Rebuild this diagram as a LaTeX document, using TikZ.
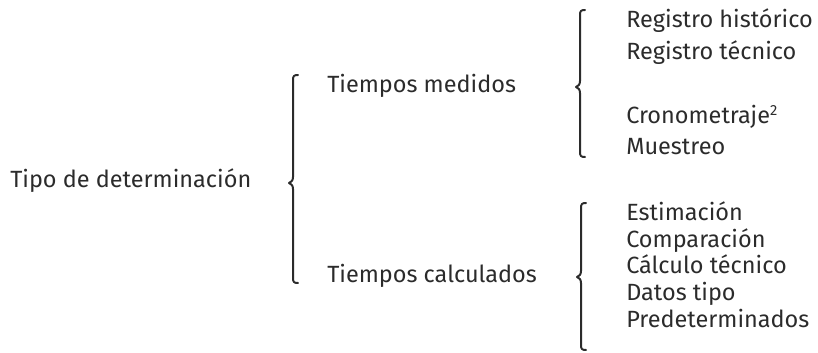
\documentclass[tikz,border=0pt]{standalone}
\usepackage{fontspec}
\setmainfont{Fira Sans}
\definecolor{txt}{HTML}{2B2B2B}
\begin{document}
\begin{tikzpicture}[x=0.75pt,y=-0.75pt,
  lbl/.style={anchor=west,inner sep=0pt,text=txt,text height=0.74em,text depth=0em,font=\fontsize{17.6pt}{20pt}\selectfont},
  brace/.style={draw=txt,line width=1.5pt,line cap=round,line join=round}]
\useasboundingbox (0,0) rectangle (818,353);
\newcommand{\mybrace}[4]{% x, top, mid, bottom
  \draw[brace] (#1+5,#2) .. controls (#1+1,#2) and (#1,#2+1) .. (#1,#2+5)
    -- (#1,#3-6) .. controls (#1,#3-2) and (#1-2,#3-1) .. (#1-4,#3)
    .. controls (#1-2,#3+1) and (#1,#3+2) .. (#1,#3+6)
    -- (#1,#4-5) .. controls (#1,#4-1) and (#1+1,#4) .. (#1+5,#4);}
\node[lbl] (root) at (10,183) {Tipo de determinación};
\node[lbl] (med) at (327,88) {Tiempos medidos};
\node[lbl] (cal) at (327,278) {Tiempos calculados};
\node[lbl] (m1) at (626,23) {Registro histórico};
\node[lbl] (m2) at (626,55) {Registro técnico};
\node[lbl] (m3) at (626,119) {Cronometraje{\fontsize{11pt}{12pt}\selectfont\raisebox{0.55em}{2}}};
\node[lbl] (m4) at (626,150) {Muestreo};
\node[lbl] (c1) at (626,216) {Estimación};
\node[lbl] (c2) at (626,243) {Comparación};
\node[lbl] (c3) at (626,269) {Cálculo técnico};
\node[lbl] (c4) at (626,296) {Datos tipo};
\node[lbl] (c5) at (626,323) {Predeterminados};
\mybrace{293}{75}{183}{283}
\mybrace{580}{10}{87}{157}
\mybrace{581}{203}{277}{350}
\end{tikzpicture}
\end{document}
